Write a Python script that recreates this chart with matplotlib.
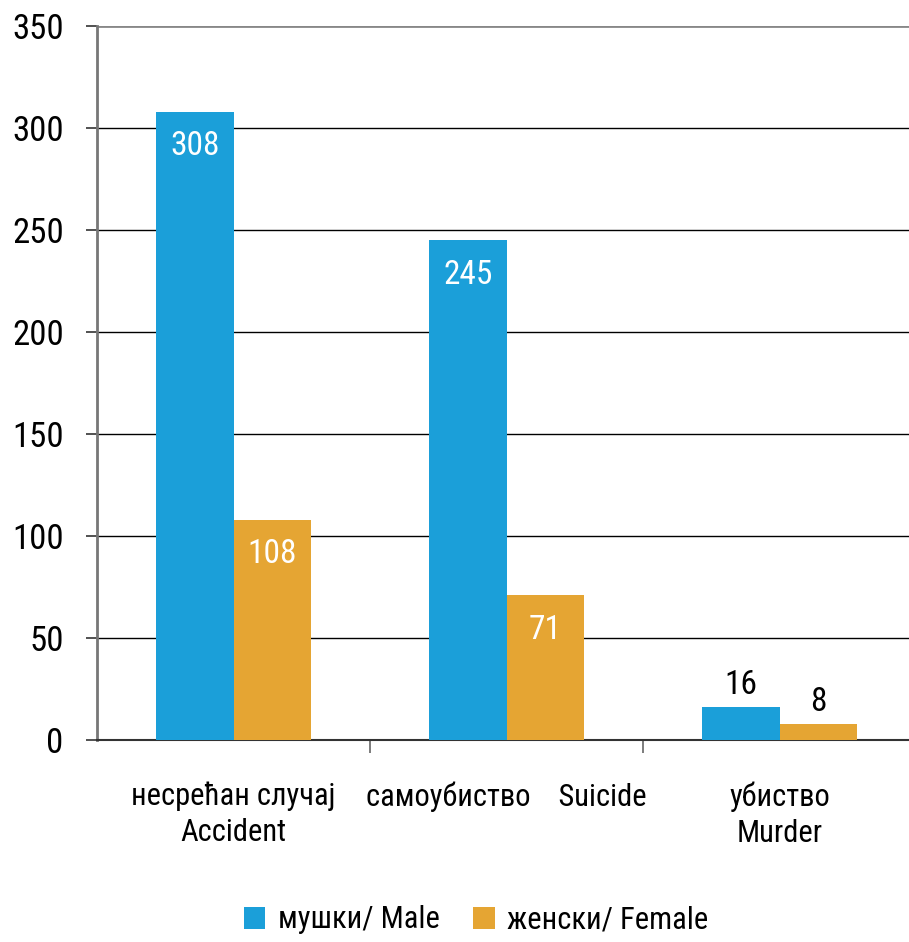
import matplotlib
matplotlib.use("Agg")
import matplotlib.pyplot as plt
from matplotlib import font_manager
import numpy as np

categories = ["несрећан случај\nAccident", "самоубиство    Suicide", "убиство\nMurder"]
male = [308, 245, 16]
female = [108, 71, 8]
series_names = ["мушки/ Male", "женски/ Female"]
yticks = [0, 50, 100, 150, 200, 250, 300, 350]

avail = {f.name for f in font_manager.fontManager.ttflist}
fam = [f for f in ["Liberation Sans Narrow", "Roboto Condensed", "Open Sans", "DejaVu Sans"] if f in avail]
plt.rcParams['font.family'] = fam

blue = "#1B9FD9"
orange = "#E5A533"

fig = plt.figure(figsize=(9.09, 9.42), dpi=100)
W, H = 909, 942
ax = fig.add_axes([97 / W, (H - 740) / H, (916 - 97) / W, (740 - 26) / H])

x = np.arange(len(categories))
bw = 0.284
b1 = ax.bar(x - bw / 2, male, bw, color=blue, label=series_names[0], zorder=3)
b2 = ax.bar(x + bw / 2, female, bw, color=orange, label=series_names[1], zorder=3)

ax.set_xlim(-0.5, 2.5)
ax.set_ylim(0, 350)
ax.set_yticks(yticks)
ax.set_yticklabels([str(t) for t in yticks], fontsize=25)
ax.yaxis.grid(True, color="black", linewidth=1.0, zorder=0)
gl = ax.yaxis.get_gridlines()
gl[-1].set_color("#888888")
gl[-1].set_linewidth(2)
ax.set_axisbelow(True)

ax.set_xticks(x)
ax.set_xticklabels(categories, fontsize=22, linespacing=1.3)
ax.set_xticks([0.5, 1.5], minor=True)
ax.tick_params(axis="x", which="major", length=0, pad=30)
ax.tick_params(axis="x", which="minor", length=9, width=1.2, color="#666666")
ax.tick_params(axis="y", length=8, width=1.2, color="#333333", pad=16)

for s in ["top", "right"]:
    ax.spines[s].set_visible(False)
ax.spines["left"].set_color("#777777")
ax.spines["left"].set_linewidth(2)
ax.spines["bottom"].set_color("#333333")
ax.spines["bottom"].set_linewidth(1.5)

for bars in (b1, b2):
    for rect in bars:
        h = rect.get_height()
        cx = rect.get_x() + rect.get_width() / 2
        if h > 50:
            ax.text(cx, h - 9, str(int(h)), ha="center", va="top", color="white", fontsize=24, zorder=4)
        else:
            ax.text(cx, h + 3, str(int(h)), ha="center", va="bottom", color="black", fontsize=24, zorder=4)

leg = fig.legend(handles=[b1, b2], labels=series_names, loc="center", bbox_to_anchor=(476 / W, (H - 920) / H),
                 ncol=2, frameon=False, fontsize=22, handlelength=0.7, handleheight=0.7,
                 handletextpad=0.4, columnspacing=1.1)

fig.savefig("out.png", dpi=100)
